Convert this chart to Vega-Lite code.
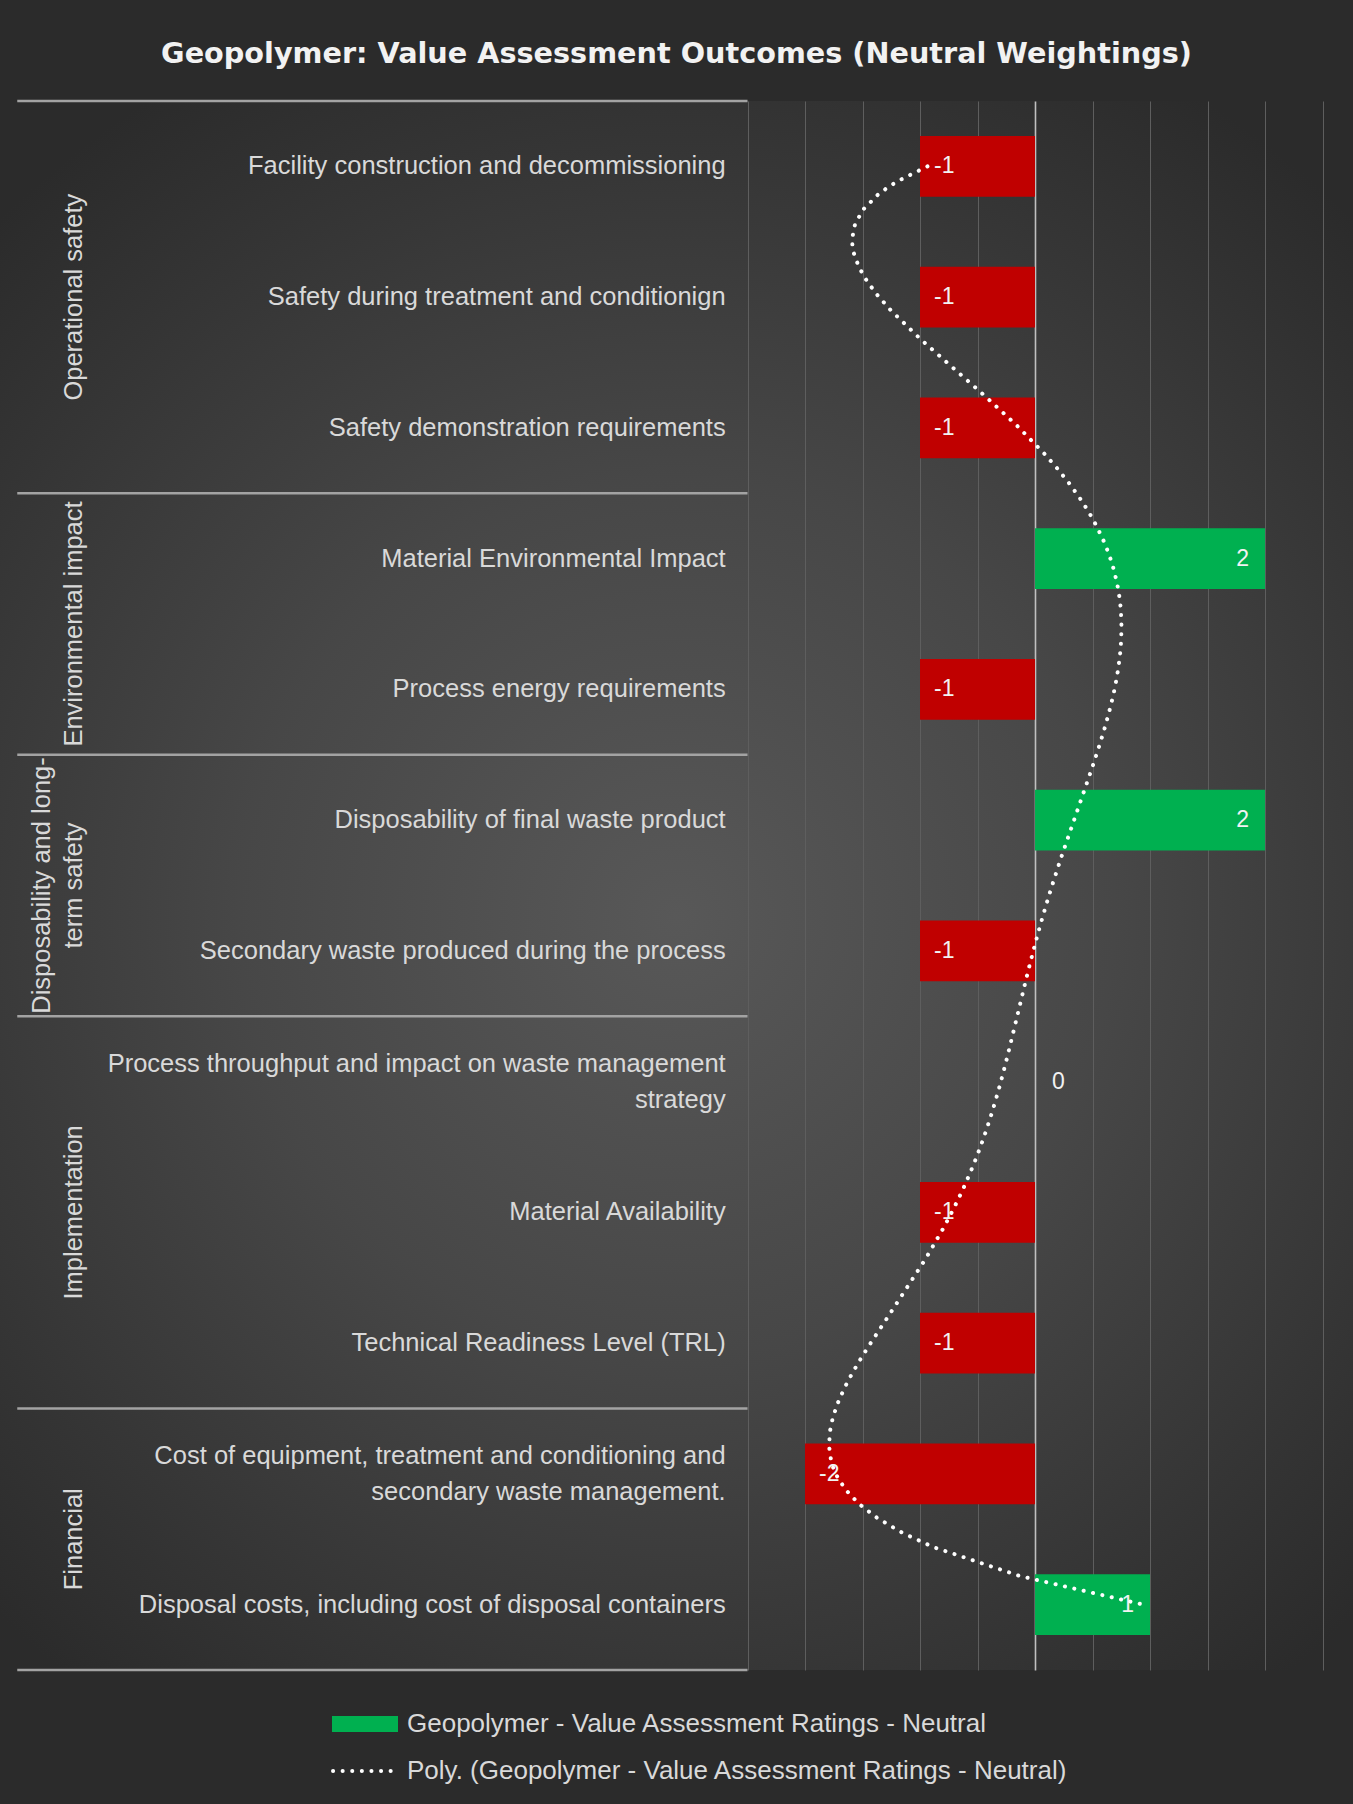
{
  "$schema": "https://vega.github.io/schema/vega-lite/v6.json",
  "width": 1353,
  "height": 1569,
  "autosize": {"type": "none"},
  "padding": {"left": 0, "right": 0, "top": 101, "bottom": 134},
  "background": "#2b2b2b",
  "view": {
    "stroke": null,
    "fill": {
      "gradient": "radial",
      "x1": 0.5, "y1": 0.52, "r1": 0,
      "x2": 0.5, "y2": 0.52, "r2": 0.62,
      "stops": [
        {"offset": 0, "color": "#585858"},
        {"offset": 0.45, "color": "#474747"},
        {"offset": 0.8, "color": "#353535"},
        {"offset": 1, "color": "#2b2b2b"}
      ]
    }
  },
  "title": {
    "text": "Geopolymer: Value Assessment Outcomes (Neutral Weightings)",
    "font": "DejaVu Sans",
    "fontWeight": "bold",
    "fontSize": 28.7,
    "color": "#f2f2f2",
    "anchor": "middle",
    "frame": "group",
    "offset": 31
  },
  "data": {
    "values": [
      {"idx": 1, "cat": "Facility construction and decommissioning", "group": "Operational safety", "v": -1, "series": "Geopolymer - Value Assessment Ratings - Neutral"},
      {"idx": 2, "cat": "Safety during treatment and conditionign", "group": "Operational safety", "v": -1, "series": "Geopolymer - Value Assessment Ratings - Neutral"},
      {"idx": 3, "cat": "Safety demonstration requirements", "group": "Operational safety", "v": -1, "series": "Geopolymer - Value Assessment Ratings - Neutral"},
      {"idx": 4, "cat": "Material Environmental Impact", "group": "Environmental impact", "v": 2, "series": "Geopolymer - Value Assessment Ratings - Neutral"},
      {"idx": 5, "cat": "Process energy requirements", "group": "Environmental impact", "v": -1, "series": "Geopolymer - Value Assessment Ratings - Neutral"},
      {"idx": 6, "cat": "Disposability of final waste product", "group": "Disposability and long-\nterm safety", "v": 2, "series": "Geopolymer - Value Assessment Ratings - Neutral"},
      {"idx": 7, "cat": "Secondary waste produced during the process", "group": "Disposability and long-\nterm safety", "v": -1, "series": "Geopolymer - Value Assessment Ratings - Neutral"},
      {"idx": 8, "cat": "Process throughput and impact on waste management\nstrategy", "group": "Implementation", "v": 0, "series": "Geopolymer - Value Assessment Ratings - Neutral"},
      {"idx": 9, "cat": "Material Availability", "group": "Implementation", "v": -1, "series": "Geopolymer - Value Assessment Ratings - Neutral"},
      {"idx": 10, "cat": "Technical Readiness Level (TRL)", "group": "Implementation", "v": -1, "series": "Geopolymer - Value Assessment Ratings - Neutral"},
      {"idx": 11, "cat": "Cost of equipment, treatment and conditioning and\nsecondary waste management.", "group": "Financial", "v": -2, "series": "Geopolymer - Value Assessment Ratings - Neutral"},
      {"idx": 12, "cat": "Disposal costs, including cost of disposal containers", "group": "Financial", "v": 1, "series": "Geopolymer - Value Assessment Ratings - Neutral"}
    ]
  },
  "layer": [
    {
      "encoding": {
        "y": {
          "field": "cat",
          "type": "nominal",
          "sort": null,
          "axis": null,
          "scale": {
            "type": "band",
            "paddingInner": 0,
            "paddingOuter": 0,
            "domain": [
              "Facility construction and decommissioning",
              "Safety during treatment and conditionign",
              "Safety demonstration requirements",
              "Material Environmental Impact",
              "Process energy requirements",
              "Disposability of final waste product",
              "Secondary waste produced during the process",
              "Process throughput and impact on waste management\nstrategy",
              "Material Availability",
              "Technical Readiness Level (TRL)",
              "Cost of equipment, treatment and conditioning and\nsecondary waste management.",
              "Disposal costs, including cost of disposal containers"
            ]
          }
        }
      },
      "layer": [
        {
          "mark": {"type": "bar", "height": {"band": 0.465}},
          "encoding": {
            "x": {
              "field": "v",
              "type": "quantitative",
              "scale": {"domain": [-9, 2.765], "nice": false, "zero": false},
              "axis": {
                "values": [-2.5, -2, -1.5, -1, -0.5, 0, 0.5, 1, 1.5, 2, 2.5],
                "grid": true,
                "gridColor": {"condition": {"test": "datum.value === 0", "value": "#c0c0c0"}, "value": "#5e5e5e"},
                "gridWidth": {"condition": {"test": "datum.value === 0", "value": 1.6}, "value": 1},
                "labels": false,
                "ticks": false,
                "domain": false,
                "title": null
              }
            },
            "color": {
              "condition": {"test": "datum.v < 0", "value": "#C00000"},
              "field": "series",
              "type": "nominal",
              "scale": {
                "domain": ["Geopolymer - Value Assessment Ratings - Neutral", "Poly. (Geopolymer - Value Assessment Ratings - Neutral)"],
                "range": ["#00B050", "#FFFFFF"]
              },
              "legend": {
                "title": null,
                "orient": "none",
                "legendX": 352,
                "legendY": 1610,
                "direction": "vertical",
                "padding": 0,
                "symbolSize": 1600,
                "labelFont": "Liberation Sans",
                "labelFontSize": 26,
                "labelColor": "#d9d9d9",
                "labelOffset": 29,
                "rowPadding": 21,
                "labelLimit": 900,
                "encode": {
                  "symbols": {
                    "update": {
                      "shape": {"signal": "datum.value === 'Geopolymer - Value Assessment Ratings - Neutral' ? 'M-1.65,-0.4H1.65V0.4H-1.65Z' : 'M-1.6,0H1.6'"},
                      "fill": {"signal": "datum.value === 'Geopolymer - Value Assessment Ratings - Neutral' ? '#00B050' : 'transparent'"},
                      "stroke": {"signal": "datum.value === 'Geopolymer - Value Assessment Ratings - Neutral' ? 'transparent' : '#ffffff'"},
                      "strokeWidth": {"signal": "datum.value === 'Geopolymer - Value Assessment Ratings - Neutral' ? 0 : 4"},
                      "strokeDash": {"signal": "datum.value === 'Geopolymer - Value Assessment Ratings - Neutral' ? [1, 0] : [0.1, 9.5]"},
                      "strokeCap": {"value": "round"},
                      "opacity": {"value": 1},
                      "fillOpacity": {"value": 1},
                      "strokeOpacity": {"value": 1}
                    }
                  }
                }
              }
            }
          }
        },
        {
          "transform": [{"filter": "indexof(datum.cat, '\\n') < 0"}],
          "mark": {"type": "text", "align": "right", "baseline": "middle", "font": "Liberation Sans", "fontSize": 25.5, "color": "#d9d9d9"},
          "encoding": {
            "x": {"datum": -2.69, "type": "quantitative"},
            "text": {"field": "cat"}
          }
        },
        {
          "transform": [{"filter": "indexof(datum.cat, '\\n') >= 0"}],
          "mark": {"type": "text", "align": "right", "baseline": "middle", "dy": -18, "font": "Liberation Sans", "fontSize": 25.5, "color": "#d9d9d9", "lineBreak": "\n", "lineHeight": 36},
          "encoding": {
            "x": {"datum": -2.69, "type": "quantitative"},
            "text": {"field": "cat"}
          }
        },
        {
          "transform": [{"filter": "datum.v < 0"}],
          "mark": {"type": "text", "align": "left", "baseline": "middle", "dx": 14, "font": "Liberation Sans", "fontSize": 23, "color": "#f2f2f2"},
          "encoding": {
            "x": {"field": "v", "type": "quantitative"},
            "text": {"field": "v", "type": "nominal"}
          }
        },
        {
          "transform": [{"filter": "datum.v > 0"}],
          "mark": {"type": "text", "align": "right", "baseline": "middle", "dx": -16, "font": "Liberation Sans", "fontSize": 23, "color": "#f2f2f2"},
          "encoding": {
            "x": {"field": "v", "type": "quantitative"},
            "text": {"field": "v", "type": "nominal"}
          }
        },
        {
          "transform": [{"filter": "datum.v === 0"}],
          "mark": {"type": "text", "align": "left", "baseline": "middle", "dx": 17, "font": "Liberation Sans", "fontSize": 23, "color": "#f2f2f2"},
          "encoding": {
            "x": {"field": "v", "type": "quantitative"},
            "text": {"field": "v", "type": "nominal"}
          }
        },
        {
          "transform": [{"aggregate": [{"op": "argmin", "field": "idx", "as": "first"}], "groupby": ["group"]}],
          "mark": {"type": "rule", "color": "#a3a3a3", "strokeWidth": 2.5},
          "encoding": {
            "y": {"field": "first.cat", "type": "nominal", "bandPosition": 0},
            "x": {"datum": -8.85, "type": "quantitative"},
            "x2": {"datum": -2.5}
          }
        },
        {
          "transform": [{"filter": "datum.idx === 12"}],
          "mark": {"type": "rule", "color": "#a3a3a3", "strokeWidth": 2.5},
          "encoding": {
            "y": {"field": "cat", "type": "nominal", "bandPosition": 1},
            "x": {"datum": -8.85, "type": "quantitative"},
            "x2": {"datum": -2.5}
          }
        }
      ]
    },
    {
      "encoding": {
        "y": {"type": "quantitative", "scale": {"domain": [0.5, 12.5], "reverse": true, "nice": false, "zero": false}, "axis": null}
      },
      "layer": [
        {
          "transform": [
            {"aggregate": [{"op": "mean", "field": "idx", "as": "mid"}], "groupby": ["group"]},
            {"filter": "indexof(datum.group, '\\n') < 0"}
          ],
          "mark": {"type": "text", "angle": 270, "align": "center", "baseline": "bottom", "font": "Liberation Sans", "fontSize": 25.5, "color": "#d9d9d9"},
          "encoding": {
            "y": {"field": "mid", "type": "quantitative"},
            "x": {"datum": -8.24, "type": "quantitative"},
            "text": {"field": "group"}
          }
        },
        {
          "transform": [
            {"aggregate": [{"op": "mean", "field": "idx", "as": "mid"}], "groupby": ["group"]},
            {"filter": "indexof(datum.group, '\\n') >= 0"}
          ],
          "mark": {"type": "text", "angle": 270, "align": "center", "baseline": "bottom", "dy": -32, "font": "Liberation Sans", "fontSize": 25.5, "color": "#d9d9d9", "lineBreak": "\n", "lineHeight": 32},
          "encoding": {
            "y": {"field": "mid", "type": "quantitative"},
            "x": {"datum": -8.24, "type": "quantitative"},
            "text": {"field": "group"}
          }
        },
        {
          "transform": [{"regression": "v", "on": "idx", "method": "poly", "order": 6, "extent": [1, 12]}],
          "mark": {"type": "line", "strokeDash": [0.1, 9.5], "strokeCap": "round", "strokeWidth": 4},
          "encoding": {
            "y": {"field": "idx", "type": "quantitative"},
            "x": {"field": "v", "type": "quantitative"},
            "order": {"field": "idx", "type": "quantitative"},
            "color": {"datum": "Poly. (Geopolymer - Value Assessment Ratings - Neutral)"}
          }
        }
      ]
    }
  ],
  "resolve": {"scale": {"y": "independent"}},
  "config": {
    "view": {"stroke": null}
  }
}
